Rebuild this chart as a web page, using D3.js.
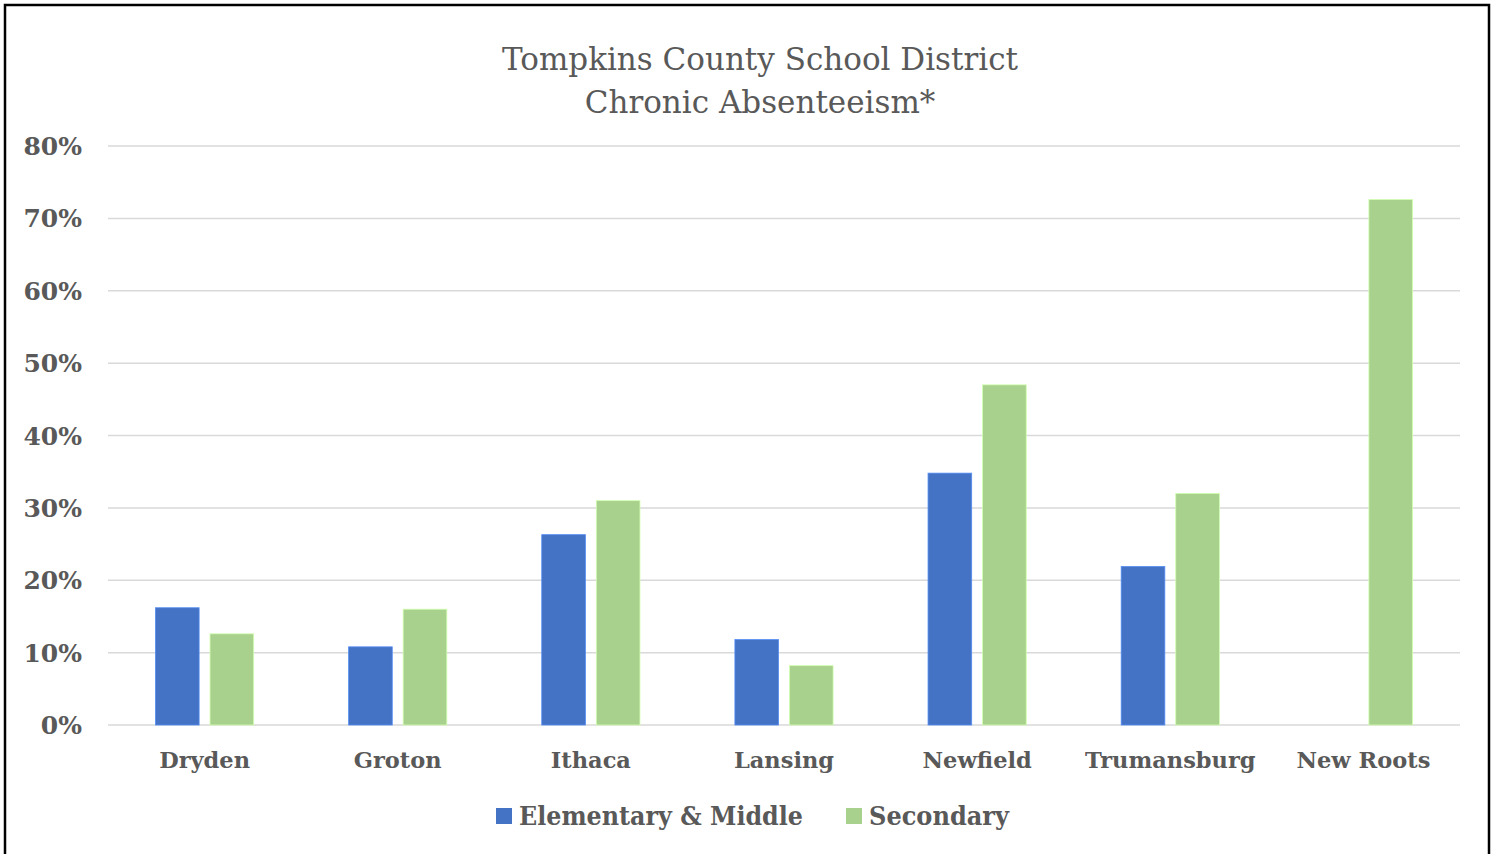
<!DOCTYPE html>
<html>
<head>
<meta charset="utf-8">
<script src="https://cdn.jsdelivr.net/npm/d3@7"></script>
<style>
    body { margin: 0; background: #fff; }
    text { font-family: "DejaVu Serif", serif; fill: #595959; }
</style>
</head>
<body>
<div id="chart"></div>
<script>
const districts = ["Dryden", "Groton", "Ithaca", "Lansing", "Newfield", "Trumansburg", "New Roots"];
const seriesNames = ["Elementary & Middle", "Secondary"];
const elementaryMiddle = [16.2, 10.8, 26.3, 11.8, 34.8, 21.9, null];
const secondary = [12.6, 16.0, 31.0, 8.2, 47.0, 32.0, 72.6];
const seriesColors = ["#4472C4", "#A9D18E"];
const yTicks = [0, 10, 20, 30, 40, 50, 60, 70, 80];

const width = 1495, height = 854;
const plotLeft = 108, plotRight = 1460, plotTop = 146, plotBottom = 725;

const svg = d3.select("#chart")
    .append("svg")
    .attr("width", width)
    .attr("height", height);

// outer frame
svg.append("rect")
    .attr("x", 5)
    .attr("y", 5)
    .attr("width", 1484)
    .attr("height", 860)
    .style("fill", "none")
    .style("stroke", "#000")
    .style("stroke-width", 2.5);

const x0 = d3.scaleBand()
    .domain(districts)
    .range([plotLeft, plotRight]);

const x1 = d3.scaleBand()
    .domain(seriesNames)
    .range([0, x0.bandwidth()])
    .paddingInner(0.2)
    .paddingOuter(0.87);

const y = d3.scaleLinear()
    .domain([0, 80])
    .range([plotBottom, plotTop]);

// gridlines
svg.append("g")
    .selectAll("line")
    .data(yTicks)
    .enter().append("line")
    .attr("x1", plotLeft)
    .attr("x2", plotRight)
    .attr("y1", d => y(d))
    .attr("y2", d => y(d))
    .style("stroke", "#d9d9d9")
    .style("stroke-width", 1.5);

// y labels
svg.append("g")
    .selectAll("text")
    .data(yTicks)
    .enter().append("text")
    .attr("x", 82)
    .attr("y", d => y(d))
    .attr("dy", "0.36em")
    .attr("text-anchor", "end")
    .style("font-size", "25px")
    .style("font-weight", "bold")
    .text(d => d + "%");

// bars
const rows = districts.map((name, i) => ({
    name: name,
    values: [
        { key: seriesNames[0], value: elementaryMiddle[i], color: seriesColors[0] },
        { key: seriesNames[1], value: secondary[i], color: seriesColors[1] }
    ]
}));

svg.append("g")
    .selectAll("g")
    .data(rows)
    .enter().append("g")
    .attr("transform", d => "translate(" + x0(d.name) + ",0)")
    .selectAll("rect")
    .data(d => d.values.filter(v => v.value != null))
    .enter().append("rect")
    .attr("x", d => x1(d.key))
    .attr("width", x1.bandwidth())
    .attr("y", d => y(d.value))
    .attr("height", d => y(0) - y(d.value))
    .style("fill", d => d.color)
    .style("stroke", d => d3.rgb(d.color).brighter(0.6))
    .style("stroke-width", 0.8);

// category labels
svg.append("g")
    .selectAll("text")
    .data(districts)
    .enter().append("text")
    .attr("x", d => x0(d) + x0.bandwidth() / 2)
    .attr("y", 768)
    .attr("text-anchor", "middle")
    .style("font-size", "22.5px")
    .style("font-weight", "bold")
    .text(d => d);

// title
const title = svg.append("text")
    .attr("x", 760)
    .attr("text-anchor", "middle")
    .style("font-size", "31px");
title.append("tspan").attr("x", 760).attr("y", 70).text("Tompkins County School District");
title.append("tspan").attr("x", 760).attr("y", 113).text("Chronic Absenteeism*");

// legend
const legendItems = [
    { name: seriesNames[0], color: seriesColors[0], x: 496, len: 284 },
    { name: seriesNames[1], color: seriesColors[1], x: 846, len: 140 }
];
const legend = svg.append("g")
    .selectAll("g")
    .data(legendItems)
    .enter().append("g")
    .attr("transform", d => "translate(" + d.x + ",808)");
legend.append("rect")
    .attr("width", 16)
    .attr("height", 16)
    .style("fill", d => d.color);
legend.append("text")
    .attr("x", 23)
    .attr("y", 17)
    .attr("textLength", d => d.len)
    .attr("lengthAdjust", "spacingAndGlyphs")
    .style("font-size", "26px")
    .style("font-weight", "bold")
    .text(d => d.name);
</script>
</body>
</html>
